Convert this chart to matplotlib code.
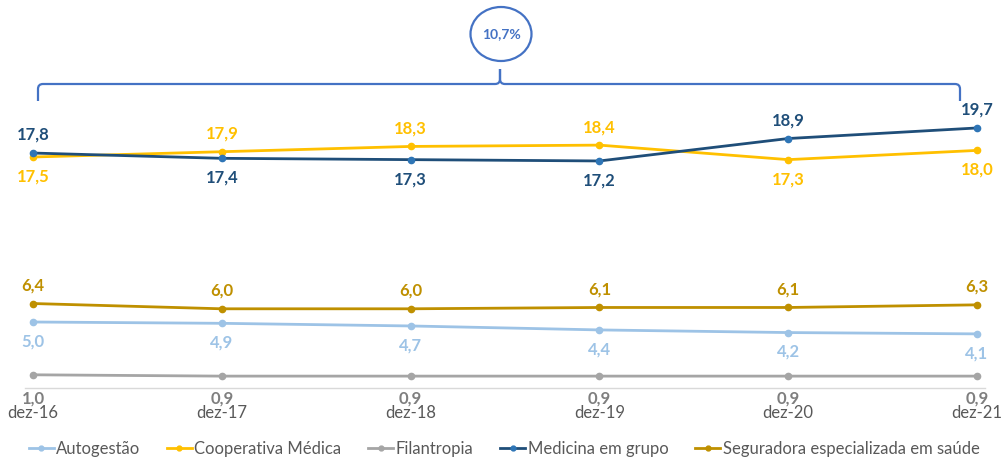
import matplotlib
matplotlib.use("Agg")
import matplotlib.pyplot as plt
from matplotlib.path import Path
from matplotlib.patches import PathPatch, Ellipse
from matplotlib.transforms import Affine2D
from matplotlib.lines import Line2D

plt.rcParams['font.family'] = ['Lato', 'DejaVu Sans']

categories = ["dez-16", "dez-17", "dez-18", "dez-19", "dez-20", "dez-21"]
autogestao = [5.0, 4.9, 4.7, 4.4, 4.2, 4.1]
cooperativa = [17.5, 17.9, 18.3, 18.4, 17.3, 18.0]
filantropia = [1.0, 0.9, 0.9, 0.9, 0.9, 0.9]
medicina = [17.8, 17.4, 17.3, 17.2, 18.9, 19.7]
seguradora = [6.4, 6.0, 6.0, 6.1, 6.1, 6.3]
bracket_label = "10,7%"

W, H = 1001, 459
fig = plt.figure(figsize=(W / 100, H / 100), dpi=100)
ax = fig.add_axes([25 / W, (H - 388) / H, 960 / W, 388 / H])
x = list(range(len(categories)))

series = [
    ("Autogestão", autogestao, "#9DC3E6", "#9DC3E6", "#9DC3E6", [-1] * 6),
    ("Cooperativa Médica", cooperativa, "#FFC000", "#FFC000", "#FFC000", [-1, 1, 1, 1, -1, -1]),
    ("Filantropia", filantropia, "#A5A5A5", "#A5A5A5", "#7F7F7F", None),
    ("Medicina em grupo", medicina, "#1F4E79", "#2E75B6", "#1F4E79", [1, -1, -1, -1, 1, 1]),
    ("Seguradora especializada em saúde", seguradora, "#BF9000", "#BF9000", "#BF9000", [1] * 6),
]

handles = []
for name, vals, lc, mc, tc, pos in series:
    ax.plot(x, vals, color=lc, lw=2.0, marker='o', markersize=4.5,
            markerfacecolor=mc, markeredgecolor=mc, solid_capstyle='round', zorder=3)
    handles.append(Line2D([0], [0], color=lc, lw=2.0, marker='o', markersize=3.5,
                          markerfacecolor=mc, markeredgecolor=mc))
    for i, v in enumerate(vals):
        lab = f"{v:.1f}".replace(".", ",")
        if pos is None:
            ax.annotate(lab, (i, 0), xytext=(0, -1.5), textcoords='offset points',
                        ha='center', va='top', fontsize=12, fontweight='bold',
                        color=tc, annotation_clip=False)
        else:
            off = 13 if pos[i] > 0 else -14
            ax.annotate(lab, (i, v), xytext=(0, off), textcoords='offset points',
                        ha='center', va='center', fontsize=12, fontweight='bold',
                        color=tc, annotation_clip=False)

ax.set_xlim(-8 / 188.8, 5 + 8 / 188.8)
ax.set_ylim(0, 388 / 13.2)
ax.set_xticks(x)
ax.set_xticklabels(categories, fontsize=12, color="#595959")
ax.tick_params(axis='x', length=0, pad=12)
ax.set_yticks([])
for s in ['top', 'right', 'left']:
    ax.spines[s].set_visible(False)
ax.spines['bottom'].set_color('#D9D9D9')
ax.spines['bottom'].set_linewidth(1.0)
ax.patch.set_alpha(0)

# Bracket and circle in pixel coordinates
pt = Affine2D().scale(1 / W, -1 / H).translate(0, 1) + fig.transFigure
bc = "#4472C4"
verts = [(38, 101), (38, 89), (38, 84), (43, 84),
         (495, 84), (500, 84), (500, 79), (500, 69),
         (500, 79), (500, 84), (505, 84),
         (955, 84), (960, 84), (960, 89), (960, 101)]
codes = [Path.MOVETO, Path.LINETO, Path.CURVE3, Path.CURVE3,
         Path.LINETO, Path.CURVE3, Path.CURVE3, Path.LINETO,
         Path.LINETO, Path.CURVE3, Path.CURVE3,
         Path.LINETO, Path.CURVE3, Path.CURVE3, Path.LINETO]
fig.add_artist(PathPatch(Path(verts, codes), fill=False, edgecolor=bc, lw=1.6,
                         transform=pt))
fig.add_artist(Ellipse((501, 34), 61, 54, fill=False, edgecolor=bc, lw=1.6, transform=pt))
fig.text(501 / W, 1 - 34 / H, bracket_label, ha='center', va='center', fontsize=10,
         fontweight='bold', color=bc)

fig.legend(handles, [s[0] for s in series], loc='center', ncol=5,
           bbox_to_anchor=(504 / W, 1 - 449 / H), frameon=False, fontsize=12,
           labelcolor="#595959", handlelength=1.5, handletextpad=0.15,
           columnspacing=1.6)

fig.savefig("out.png", dpi=100)
